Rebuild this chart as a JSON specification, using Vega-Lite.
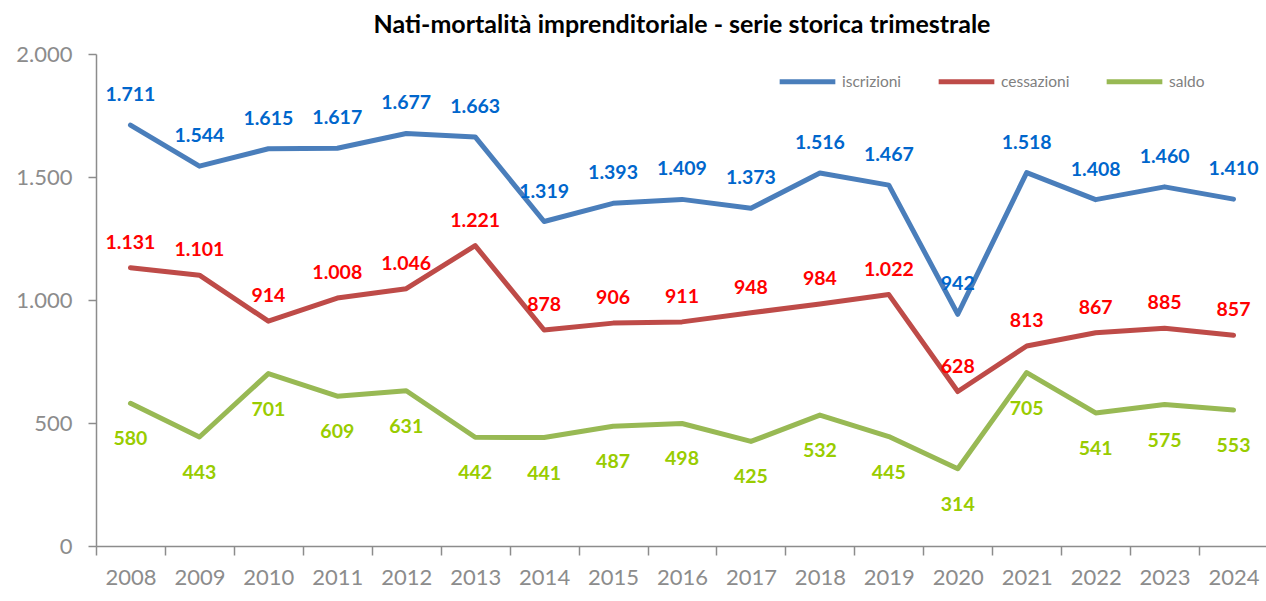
{
  "$schema": "https://vega.github.io/schema/vega-lite/v6.json",
  "autosize": "none",
  "width": 1172,
  "height": 492,
  "padding": {"left": 96, "top": 54, "right": 0, "bottom": 55},
  "background": "white",
  "title": {"text": "Nati-mortalità imprenditoriale - serie storica trimestrale", "font": "Lato", "fontSize": 25, "fontWeight": "bold", "color": "#000000", "anchor": "middle", "offset": 5},
  "data": {"values": [
    {"anno": "2008", "serie": "iscrizioni", "valore": 1711},
    {"anno": "2009", "serie": "iscrizioni", "valore": 1544},
    {"anno": "2010", "serie": "iscrizioni", "valore": 1615},
    {"anno": "2011", "serie": "iscrizioni", "valore": 1617},
    {"anno": "2012", "serie": "iscrizioni", "valore": 1677},
    {"anno": "2013", "serie": "iscrizioni", "valore": 1663},
    {"anno": "2014", "serie": "iscrizioni", "valore": 1319},
    {"anno": "2015", "serie": "iscrizioni", "valore": 1393},
    {"anno": "2016", "serie": "iscrizioni", "valore": 1409},
    {"anno": "2017", "serie": "iscrizioni", "valore": 1373},
    {"anno": "2018", "serie": "iscrizioni", "valore": 1516},
    {"anno": "2019", "serie": "iscrizioni", "valore": 1467},
    {"anno": "2020", "serie": "iscrizioni", "valore": 942},
    {"anno": "2021", "serie": "iscrizioni", "valore": 1518},
    {"anno": "2022", "serie": "iscrizioni", "valore": 1408},
    {"anno": "2023", "serie": "iscrizioni", "valore": 1460},
    {"anno": "2024", "serie": "iscrizioni", "valore": 1410},
    {"anno": "2008", "serie": "cessazioni", "valore": 1131},
    {"anno": "2009", "serie": "cessazioni", "valore": 1101},
    {"anno": "2010", "serie": "cessazioni", "valore": 914},
    {"anno": "2011", "serie": "cessazioni", "valore": 1008},
    {"anno": "2012", "serie": "cessazioni", "valore": 1046},
    {"anno": "2013", "serie": "cessazioni", "valore": 1221},
    {"anno": "2014", "serie": "cessazioni", "valore": 878},
    {"anno": "2015", "serie": "cessazioni", "valore": 906},
    {"anno": "2016", "serie": "cessazioni", "valore": 911},
    {"anno": "2017", "serie": "cessazioni", "valore": 948},
    {"anno": "2018", "serie": "cessazioni", "valore": 984},
    {"anno": "2019", "serie": "cessazioni", "valore": 1022},
    {"anno": "2020", "serie": "cessazioni", "valore": 628},
    {"anno": "2021", "serie": "cessazioni", "valore": 813},
    {"anno": "2022", "serie": "cessazioni", "valore": 867},
    {"anno": "2023", "serie": "cessazioni", "valore": 885},
    {"anno": "2024", "serie": "cessazioni", "valore": 857},
    {"anno": "2008", "serie": "saldo", "valore": 580},
    {"anno": "2009", "serie": "saldo", "valore": 443},
    {"anno": "2010", "serie": "saldo", "valore": 701},
    {"anno": "2011", "serie": "saldo", "valore": 609},
    {"anno": "2012", "serie": "saldo", "valore": 631},
    {"anno": "2013", "serie": "saldo", "valore": 442},
    {"anno": "2014", "serie": "saldo", "valore": 441},
    {"anno": "2015", "serie": "saldo", "valore": 487},
    {"anno": "2016", "serie": "saldo", "valore": 498},
    {"anno": "2017", "serie": "saldo", "valore": 425},
    {"anno": "2018", "serie": "saldo", "valore": 532},
    {"anno": "2019", "serie": "saldo", "valore": 445},
    {"anno": "2020", "serie": "saldo", "valore": 314},
    {"anno": "2021", "serie": "saldo", "valore": 705},
    {"anno": "2022", "serie": "saldo", "valore": 541},
    {"anno": "2023", "serie": "saldo", "valore": 575},
    {"anno": "2024", "serie": "saldo", "valore": 553}
  ]},
  "transform": [
    {"calculate": "replace(format(datum.valore, ','), ',', '.')", "as": "etichetta"}
  ],
  "encoding": {
    "x": {"field": "anno", "type": "ordinal", "scale": {"type": "band", "paddingInner": 0, "paddingOuter": 0},
      "axis": {"title": null, "labelAngle": 0, "labelFont": "Lato", "labelFontSize": 22, "labelColor": "#8c8c8c", "labelPadding": 12,
        "tickBand": "extent", "tickSize": 9, "tickColor": "#8c8c8c", "tickWidth": 1.5, "domainColor": "#8c8c8c", "domainWidth": 1.5, "grid": false}},
    "y": {"field": "valore", "type": "quantitative", "scale": {"domain": [0, 2000], "nice": false},
      "axis": {"title": null, "values": [0, 500, 1000, 1500, 2000], "labelExpr": "replace(format(datum.value, ','), ',', '.')",
        "labelFont": "Lato", "labelFontSize": 22, "labelColor": "#8c8c8c", "labelPadding": 16, "tickSize": 8, "tickColor": "#8c8c8c", "tickWidth": 1.5,
        "domainColor": "#8c8c8c", "domainWidth": 1.5, "grid": false}}
  },
  "layer": [
    {"mark": {"type": "line", "strokeWidth": 5, "strokeJoin": "round", "strokeCap": "round"},
      "encoding": {"color": {"field": "serie", "type": "nominal",
        "scale": {"domain": ["iscrizioni", "cessazioni", "saldo"], "range": ["#4A7EBB", "#BE4B48", "#98B954"]},
        "legend": {"title": null, "orient": "none", "legendX": 681, "legendY": -3, "direction": "horizontal",
          "symbolType": "stroke", "symbolSize": 3100, "symbolStrokeWidth": 5, "labelFont": "Lato", "labelFontSize": 15.5,
          "labelColor": "#808080", "columnPadding": 26, "labelOffset": 4}}}},
    {"transform": [{"filter": "datum.serie == 'iscrizioni'"}],
      "mark": {"type": "text", "dy": -30, "font": "Lato", "fontSize": 19.5, "fontWeight": "bold", "color": "#0066CC"},
      "encoding": {"text": {"field": "etichetta"}}},
    {"transform": [{"filter": "datum.serie == 'cessazioni'"}],
      "mark": {"type": "text", "dy": -25, "font": "Lato", "fontSize": 19.5, "fontWeight": "bold", "color": "#FF0000"},
      "encoding": {"text": {"field": "etichetta"}}},
    {"transform": [{"filter": "datum.serie == 'saldo'"}],
      "mark": {"type": "text", "dy": 36, "font": "Lato", "fontSize": 19.5, "fontWeight": "bold", "color": "#99CC00"},
      "encoding": {"text": {"field": "etichetta"}}}
  ],
  "config": {"view": {"stroke": null}}
}
